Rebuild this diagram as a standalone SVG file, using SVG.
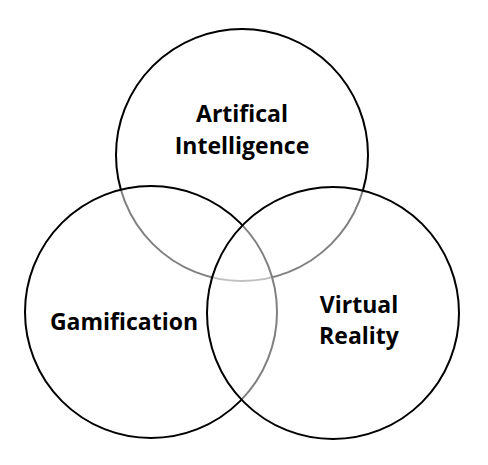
<svg xmlns="http://www.w3.org/2000/svg" width="488" height="465" viewBox="0 0 488 465">
<style>
.c{fill:#fff;fill-opacity:0.5;stroke:#000;stroke-width:2}
.t{font-family:"Open Sans","Liberation Sans",sans-serif;font-weight:bold;font-size:23px;fill:#000;text-anchor:middle}
</style>
<rect width="488" height="465" fill="#fff"/>
<g id="ai"><circle class="c" cx="242" cy="155" r="126"/></g>
<g id="gamification"><circle class="c" cx="151" cy="312" r="126"/></g>
<g id="vr"><circle class="c" cx="333" cy="313" r="126"/></g>
<g id="labels">
<text class="t" x="242" y="122">Artifical</text>
<text class="t" x="242" y="154">Intelligence</text>
<text class="t" x="124" y="330">Gamification</text>
<text class="t" x="359" y="313">Virtual</text>
<text class="t" x="359" y="344">Reality</text>
</g>
</svg>
